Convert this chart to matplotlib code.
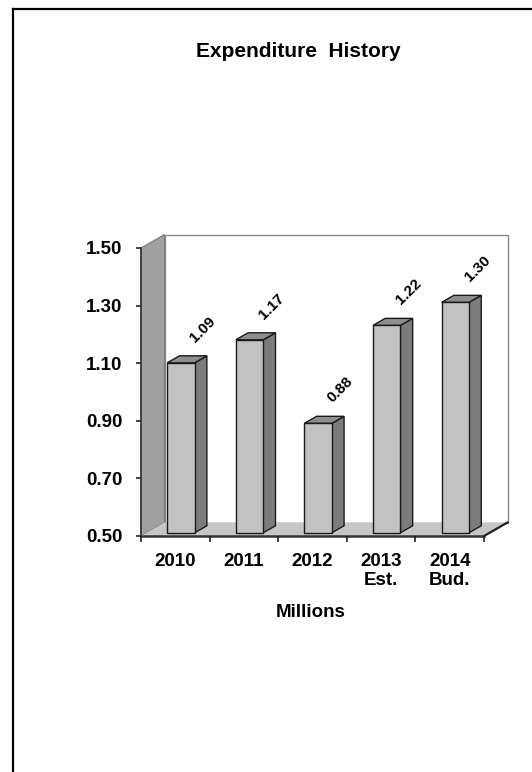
import matplotlib
matplotlib.use("Agg")
import matplotlib.pyplot as plt
from matplotlib.patches import Polygon
from matplotlib.lines import Line2D

# ---- data -------------------------------------------------------------
categories = ["2010", "2011", "2012", "2013\nEst.", "2014\nBud."]
values = [1.09, 1.17, 0.88, 1.22, 1.30]
y_ticks = [0.50, 0.70, 0.90, 1.10, 1.30, 1.50]
title = "Expenditure  History"
x_label = "Millions"

# ---- figure -----------------------------------------------------------
W, H, DPI = 532, 772, 100
fig = plt.figure(figsize=(W / DPI, H / DPI), dpi=DPI)
fig.patch.set_facecolor("white")
plt.rcParams["font.family"] = ["Liberation Sans", "DejaVu Sans"]

# front plane of the 3-D box, in pixel units
px_left, px_right, px_bottom, px_top = 141, 484, 536, 248
ax = fig.add_axes([px_left / W, 1 - px_bottom / H,
                   (px_right - px_left) / W, (px_bottom - px_top) / H])
n = len(categories)
ymin, ymax = y_ticks[0], y_ticks[-1]
ax.set_xlim(0, n)
ax.set_ylim(ymin, ymax)
ax.set_facecolor("none")

# depth of the box expressed in data units
px_per_cat = (px_right - px_left) / n
px_per_val = (px_bottom - px_top) / (ymax - ymin)
DX = 23.5 / px_per_cat
DY = 13.5 / px_per_val

def poly(pts, fc, ec="none", lw=0.0, z=1):
    p = Polygon(pts, closed=True, facecolor=fc, edgecolor=ec, linewidth=lw,
                zorder=z, clip_on=False, joinstyle="miter")
    ax.add_patch(p)
    return p

# back wall
poly([(DX, ymin + DY), (n + DX, ymin + DY), (n + DX, ymax + DY), (DX, ymax + DY)],
     "white", "#8a8a8a", 1.0, z=0.5)
# left wall
poly([(0, ymin), (DX, ymin + DY), (DX, ymax + DY), (0, ymax)],
     "#a0a0a0", "#7a7a7a", 0.8, z=0.6)
# floor
poly([(0, ymin), (n, ymin), (n + DX, ymin + DY), (DX, ymin + DY)],
     "#c6c6c6", "none", 0, z=0.7)
# dark outline along the right edge of the floor
ax.add_line(Line2D([n, n + DX], [ymin, ymin + DY], color="#222222", lw=1.6,
                   clip_on=False, zorder=0.8))

# ---- bars --------------------------------------------------------------
bar_w = 0.40            # width of front face (category units)
f0 = 0.24               # depth fraction where the bar front sits
bd = 0.52               # bar depth as fraction of the box depth
for i, v in enumerate(values):
    cx = i + 0.5 + f0 * DX
    x0, x1 = cx - bar_w / 2, cx + bar_w / 2
    yb = ymin + f0 * DY
    yt = v + f0 * DY
    ddx, ddy = bd * DX, bd * DY
    # side
    poly([(x1, yb), (x1 + ddx, yb + ddy), (x1 + ddx, yt + ddy), (x1, yt)],
         "#7c7c7c", "#1a1a1a", 1.0, z=2)
    # top
    poly([(x0, yt), (x1, yt), (x1 + ddx, yt + ddy), (x0 + ddx, yt + ddy)],
         "#8e8e8e", "#1a1a1a", 1.0, z=2)
    # front
    poly([(x0, yb), (x1, yb), (x1, yt), (x0, yt)],
         "#c2c2c2", "#1a1a1a", 1.0, z=3)
    ax.annotate(f"{v:.2f}", xy=(cx, yt), xytext=(16, 24),
                textcoords="offset points", rotation=45,
                ha="center", va="center", fontsize=11, fontweight="bold",
                color="black", annotation_clip=False)

# ---- axes styling ------------------------------------------------------
for s in ("top", "right"):
    ax.spines[s].set_visible(False)
ax.spines["left"].set_color("#333333")
ax.spines["left"].set_linewidth(1.2)
ax.spines["bottom"].set_color("#333333")
ax.spines["bottom"].set_linewidth(1.8)
ax.spines["left"].set_zorder(1)
ax.spines["bottom"].set_zorder(1)

ax.set_yticks(y_ticks)
ax.set_yticklabels([f"{t:.2f}" for t in y_ticks], fontsize=13.5, fontweight="bold")
ax.tick_params(axis="y", direction="out", length=3.5, width=1.2, color="#222222",
               pad=10)

ax.set_xticks(range(n + 1))
ax.set_xticklabels([])
ax.set_xticks([i + 0.5 for i in range(n)], minor=True)
ax.set_xticklabels(categories, minor=True, fontsize=13.5, fontweight="bold",
                   linespacing=1.2)
ax.tick_params(axis="x", which="major", direction="out", length=4.5, width=1.2,
               color="#222222")
ax.tick_params(axis="x", which="minor", length=0, pad=12)

fig.text(311 / W, 1 - 617 / H, x_label, ha="center", va="baseline",
         fontsize=13.5, fontweight="bold")
fig.text(298 / W, 1 - 57 / H, title, ha="center", va="baseline",
         fontsize=15, fontweight="bold")

# frame around the page (top and left edges)
fig.add_artist(Line2D([13 / W, 13 / W], [0, 1 - 9 / H], transform=fig.transFigure,
                      color="black", lw=1.6))
fig.add_artist(Line2D([13 / W, 1], [1 - 9 / H, 1 - 9 / H], transform=fig.transFigure,
                      color="black", lw=1.6))

fig.savefig("out.png", dpi=DPI, facecolor="white")
